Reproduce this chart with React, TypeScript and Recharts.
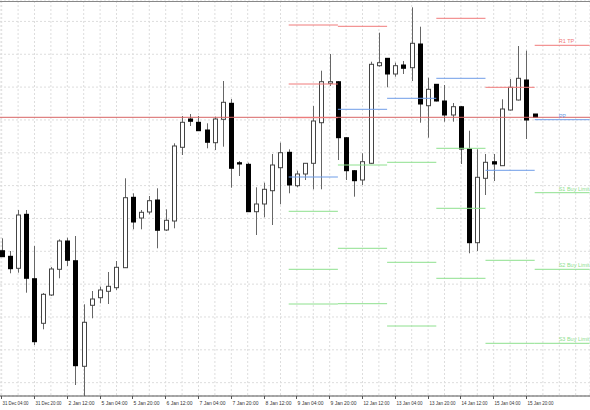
import React from 'react';
import { ComposedChart, Bar, XAxis, YAxis, CartesianGrid, ReferenceLine } from 'recharts';

// 4H candles, 31 Dec 04:00 .. 16 Jan 00:00 (values in points, no price scale shown)
const opens = [
  145.3, 139.7, 127.7, 181.7, 117.3, 72.7, 101, 126.7, 155, 135.3,
  29.7, 90.7, 98.3, 104.7, 108.3, 128.3, 198.7, 178, 184, 196,
  166, 175, 248.7, 277, 273.7, 266, 253.3, 276.7, 292.7, 233.3,
  231.7, 184.3, 192, 205.3, 228.3, 243.7, 210.3, 222, 232.7, 273.3,
  312.7, 314.3, 258.3, 225.3, 216, 232.7, 330.3, 337.7, 322, 331,
  328.3, 352, 290.3, 311.7, 295, 281, 289.3, 247, 153.3, 217.7,
  234.3, 230.3, 286, 296, 316, 282,
];
const highs = [
  157.7, 145, 186, 186, 150, 103, 129, 156.7, 158.3, 160,
  91.7, 105, 109.3, 124, 135, 217.7, 202.7, 186, 200, 207.7,
  186.7, 252.7, 280, 282, 280, 272.7, 279.3, 315, 297, 235,
  233.3, 208.7, 213.3, 242, 253.3, 246.7, 225.3, 233, 290, 325.3,
  342, 315, 259, 226, 242.7, 334.3, 363.3, 338, 333.3, 335,
  388.7, 369.3, 318.3, 312, 311, 293, 290, 265.3, 246.7, 242,
  242, 296.7, 317, 350, 345.3, 282,
];
const lows = [
  139, 122.7, 123.3, 103.3, 51, 66.7, 100, 117.7, 130, 11,
  0, 77.7, 92.7, 92, 106, 128, 166.7, 166.7, 181.7, 147.7,
  165, 167.7, 241, 270, 265, 247.7, 246, 249.3, 208.3, 220,
  184, 161, 178.7, 171, 191.7, 202.7, 208.7, 216, 206.7, 206.7,
  310, 236, 216, 199.3, 211, 232, 329.3, 308.7, 319.3, 322,
  315, 273.3, 258.3, 294.5, 274.3, 274.3, 232, 142.7, 145, 201,
  215, 230, 285.5, 295.5, 257, 278.5,
];
const closes = [
  139.3, 127.3, 181, 117.7, 54.3, 101.7, 127, 155, 135.7, 30.3,
  73.7, 97, 106, 109.7, 128.7, 198.3, 174, 183.7, 195.3, 165.7,
  175.7, 250, 273.7, 274.7, 265.3, 253.7, 277, 293.7, 227.7, 232,
  184.3, 192, 206.7, 231, 243.3, 211, 222, 232.7, 275, 314.3,
  314.3, 258.3, 225.3, 215.3, 234.3, 331.7, 333.3, 322, 330.3, 327.7,
  352.7, 292, 306.7, 295, 281, 289.3, 247, 153.3, 218.7, 233.7,
  232, 287, 308.7, 317.7, 276, 278.7,
];

const tickLabels = [
  '31 Dec 04:00', '31 Dec 20:00', '2 Jan 12:00', '5 Jan 04:00', '5 Jan 20:00',
  '6 Jan 12:00', '7 Jan 04:00', '7 Jan 20:00', '8 Jan 12:00', '9 Jan 04:00',
  '9 Jan 20:00', '12 Jan 12:00', '13 Jan 04:00', '13 Jan 20:00', '14 Jan 12:00',
  '15 Jan 04:00', '15 Jan 20:00',
];

// daily pivot levels: 9, 12, 13, 14, 15, 16 Jan (null = off chart / not drawn)
const dayStart = [35, 41, 47, 53, 59, 65];
const dayEnd = [41, 47, 53, 59, 65, 71.7];
const r3 = [371, null, null, null, null, null];
const r2 = [312, null, null, null, null, null];
const r1 = [278.3, 369.7, null, 377.7, 308.7, 350.7];
const pp = [219, 286.7, 297.7, 317.7, 225.7, 276.3];
const s1 = [184.7, 231, 233.7, 247.7, null, 203.3];
const s2 = [126.7, 147.7, 133.7, 187.7, 135.7, 126.7];
const s3 = [92, 92.3, 70, 117.7, 52.7, 52.7];
const lastLabels = ['R1 TP', 'PP', 'S1 Buy Limit', 'S2 Buy Limit', 'S3 Buy Limit'];

const currentLevel = 278.7;

const RED = '#f07a7a';
const BLUE = '#6f9de8';
const GREEN = '#8ee08e';

const data = opens.map((open, i) => ({
  i,
  open,
  high: highs[i],
  low: lows[i],
  close: closes[i],
}));

const gridX = Array.from({ length: 36 }, (_, k) => k * 2);
const gridY = Array.from({ length: 24 }, (_, k) => 391 - 16.42 * k);

const Candle = (props: any) => {
  const { x, y, width, height, payload } = props;
  const top = Math.min(y, y + height);
  const h = Math.abs(height);
  const { open, close, high, low } = payload;
  const k = h / (high - low || 1);
  const py = (v: number) => top + (high - v) * k;
  const cx = Math.floor(x + width / 2) + 0.5;
  const bull = close >= open;
  const bTop = py(Math.max(open, close));
  const bBot = Math.max(py(Math.min(open, close)), bTop + 1);
  return (
    <g>
      <line x1={cx} x2={cx} y1={py(high)} y2={py(low)} stroke="#666" strokeWidth={1} />
      {bull ? (
        <rect x={cx - 2} y={bTop} width={4} height={bBot - bTop} fill="#fff" stroke="#444" strokeWidth={1} />
      ) : (
        <rect x={cx - 2.5} y={bTop - 0.5} width={5} height={bBot - bTop + 1} fill="#000" />
      )}
    </g>
  );
};

const AxisTick = (props: any) => {
  const { x, y, payload } = props;
  const idx = payload.value;
  if (idx % 4 !== 0 || idx > 64) return null;
  const lx = Math.floor(x) + 0.5;
  return (
    <g>
      <line x1={lx} x2={lx} y1={y} y2={y + 3} stroke="#555" />
      <text
        x={lx + 1}
        y={y + 8.5}
        fontSize={5}
        fontFamily="'Liberation Sans Narrow', 'Liberation Sans', sans-serif"
        textLength={26}
        lengthAdjust="spacingAndGlyphs"
        fill="#333"
      >
        {tickLabels[idx / 4]}
      </text>
    </g>
  );
};

const levelLabel = (text: string, color: string) => (props: any) => {
  const vb = props.viewBox || {};
  return (
    <text
      x={vb.x + 24}
      y={vb.y - 2}
      fontSize={5.5}
      fontFamily="'Liberation Sans', Arial, sans-serif"
      fill={color}
    >
      {text}
    </text>
  );
};

const renderLevels = (levels: Array<number | null>, color: string, name: number) =>
  levels.map((v, d) =>
    v === null ? null : (
      <ReferenceLine
        key={`lvl-${name}-${d}`}
        segment={[
          { x: dayStart[d], y: v },
          { x: dayEnd[d], y: v },
        ]}
        stroke={color}
        strokeWidth={1}
        ifOverflow="visible"
        label={d === dayStart.length - 1 && name >= 2 ? levelLabel(lastLabels[name - 2], color) : undefined}
      />
    )
  );

export default function App() {
  return (
    <div style={{ position: 'absolute', left: 0, top: 0, width: 590, height: 410, background: '#fff' }}>
      <ComposedChart width={590} height={410} data={data} margin={{ top: 1, right: 0, bottom: 0, left: 0 }}>
        <CartesianGrid stroke="#dddddd" strokeDasharray="2 2" />
        <XAxis
          dataKey="i"
          type="number"
          domain={[-0.2073, 71.744]}
          allowDataOverflow
          ticks={gridX}
          interval={0}
          tick={<AxisTick />}
          tickLine={false}
          tickSize={0}
          tickMargin={0}
          axisLine={{ stroke: '#555' }}
          height={14}
        />
        <YAxis hide type="number" domain={[0, 395]} allowDataOverflow ticks={gridY} />
        <ReferenceLine y={394.5} stroke="#888" ifOverflow="visible" />
        <Bar dataKey={(d: any) => [d.low, d.high]} barSize={5} shape={<Candle />} isAnimationActive={false} />
        <ReferenceLine y={currentLevel} stroke="#d86464" ifOverflow="visible" />
        {renderLevels(r3, RED, 0)}
        {renderLevels(r2, RED, 1)}
        {renderLevels(r1, RED, 2)}
        {renderLevels(pp, BLUE, 3)}
        {renderLevels(s1, GREEN, 4)}
        {renderLevels(s2, GREEN, 5)}
        {renderLevels(s3, GREEN, 6)}
      </ComposedChart>
    </div>
  );
}
